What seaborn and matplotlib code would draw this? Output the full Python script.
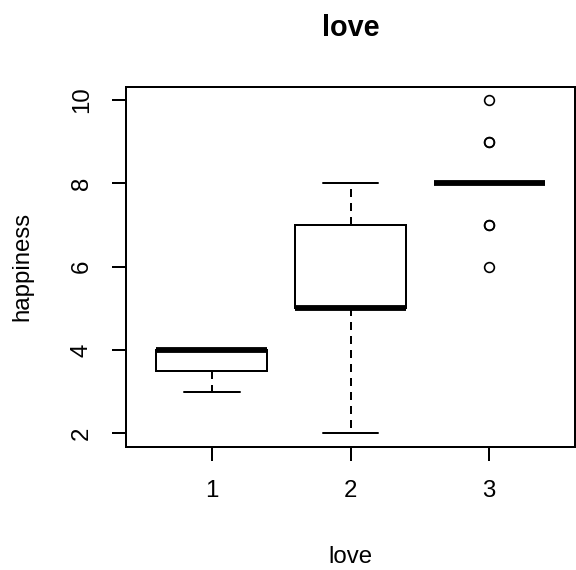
import numpy as np
import pandas as pd
import matplotlib
matplotlib.use("Agg")
import matplotlib.pyplot as plt
import seaborn as sns

# ---- data ----
categories = ["1", "2", "3"]
happiness_love1 = [3, 4, 4]
happiness_love2 = [2, 5, 5, 7, 8]
happiness_love3 = [6, 7, 7, 8, 8, 8, 8, 8, 8, 8, 8, 9, 9, 10]
y_ticks = [2, 4, 6, 8, 10]

groups = [happiness_love1, happiness_love2, happiness_love3]
df = pd.DataFrame({
    "love": [c for c, g in zip(categories, groups) for _ in g],
    "happiness": [v for g in groups for v in g],
})

sns.set_theme(style="white")
plt.rcParams["font.family"] = ["Liberation Sans", "DejaVu Sans"]

fig = plt.figure(figsize=(5.76, 5.70), dpi=100)
ax = fig.add_axes([126 / 576, 1 - 446.7 / 570, (575 - 126) / 576, (446.7 - 86.7) / 570])

LW = 1.44
sns.boxplot(
    data=df, x="love", y="happiness", order=categories, ax=ax,
    width=0.8, color="white", linecolor="black", linewidth=LW,
    whis=1.5,
    boxprops=dict(facecolor="white", edgecolor="black", linewidth=LW),
    medianprops=dict(color="black", linewidth=4.2, solid_capstyle="butt"),
    whiskerprops=dict(color="black", linewidth=LW, linestyle=(0, (4, 3))),
    capprops=dict(color="black", linewidth=LW),
    flierprops=dict(marker="o", markersize=7.0, markerfacecolor="none",
                    markeredgecolor="black", markeredgewidth=1.2),
)

ax.set_xlim(-0.62, 2.62)
ax.set_ylim(1.68, 10.32)
ax.set_yticks(y_ticks)
ax.set_yticklabels([str(t) for t in y_ticks])
ax.set_xticks(range(len(categories)))
ax.set_xticklabels(categories)
ax.set_xlabel("")
ax.set_ylabel("")

for s in ax.spines.values():
    s.set_visible(True)
    s.set_color("black")
    s.set_linewidth(LW)

ax.tick_params(axis="both", direction="out", length=10.4, width=LW,
               color="black", labelsize=17.3, labelcolor="black", pad=13.5,
               bottom=True, left=True)
plt.setp(ax.get_yticklabels(), rotation=90, va="center")

fig.text(350.5 / 576, 1 - 36 / 570, "love", ha="center", va="baseline",
         fontsize=20.7, fontweight="bold", color="black")
fig.text(350.5 / 576, 1 - 563 / 570, "love", ha="center", va="baseline",
         fontsize=17.3, color="black")
fig.text(22 / 576, 1 - 266.7 / 570, "happiness", ha="center", va="center",
         rotation=90, fontsize=17.3, color="black")

fig.savefig("out.png", dpi=100, facecolor="white")
